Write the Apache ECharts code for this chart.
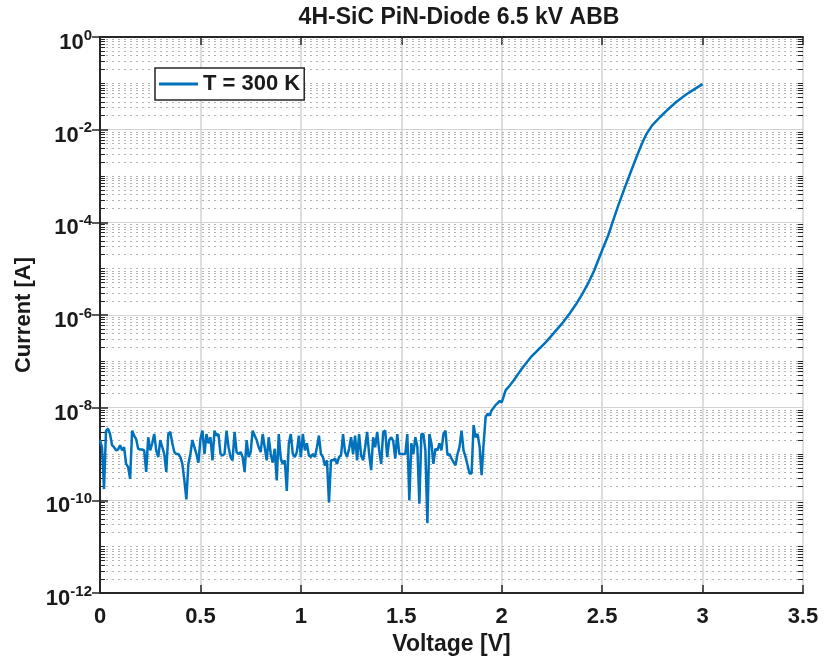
<!DOCTYPE html>
<html><head><meta charset="utf-8">
<script src="https://cdn.jsdelivr.net/npm/echarts@6/dist/echarts.min.js"></script>
<style>html,body{margin:0;padding:0;background:#fff}#c{width:824px;height:664px}</style>
</head><body><div id="c"></div>
<script>
const chartTitle = '4H-SiC PiN-Diode 6.5 kV ABB';
const xName = 'Voltage [V]';
const yName = 'Current [A]';
const legendName = 'T = 300 K';

const noiseVoltage = [
0.00,0.01,0.02,0.03,0.04,0.05,0.06,0.07,0.08,0.09,0.10,0.11,0.12,0.13,0.14,0.15,0.16,0.17,0.18,0.19,
0.20,0.21,0.22,0.23,0.24,0.25,0.26,0.27,0.28,0.29,0.30,0.31,0.32,0.33,0.34,0.35,0.36,0.37,0.38,0.39,
0.40,0.41,0.42,0.43,0.44,0.45,0.46,0.47,0.48,0.49,0.50,0.51,0.52,0.53,0.54,0.55,0.56,0.57,0.58,0.59,
0.60,0.61,0.62,0.63,0.64,0.65,0.66,0.67,0.68,0.69,0.70,0.71,0.72,0.73,0.74,0.75,0.76,0.77,0.78,0.79,
0.80,0.81,0.82,0.83,0.84,0.85,0.86,0.87,0.88,0.89,0.90,0.91,0.92,0.93,0.94,0.95,0.96,0.97,0.98,0.99,
1.00,1.01,1.02,1.03,1.04,1.05,1.06,1.07,1.08,1.09,1.10,1.11,1.12,1.13,1.14,1.15,1.16,1.17,1.18,1.19,
1.20,1.21,1.22,1.23,1.24,1.25,1.26,1.27,1.28,1.29,1.30,1.31,1.32,1.33,1.34,1.35,1.36,1.37,1.38,1.39,
1.40,1.41,1.42,1.43,1.44,1.45,1.46,1.47,1.48,1.49,1.50,1.51,1.52,1.53,1.54,1.55,1.56,1.57,1.58,1.59,
1.60,1.61,1.62,1.63,1.64,1.65,1.66,1.67,1.68,1.69,1.70,1.71,1.72,1.73,1.74,1.75,1.76,1.77,1.78,1.79,
1.80,1.81,1.82,1.83,1.84,1.85,1.86,1.87,1.88,1.89,1.90,1.91,1.92,1.93,1.94,1.95,1.96,1.97,1.98,1.99
];
const noiseCurrent = [
2.0e-9,1.4e-9,1.75e-10,3.2e-9,3.5e-9,2.7e-9,1.55e-9,1.4e-9,1.2e-9,1.25e-9,
1.55e-9,1.2e-9,1.4e-9,6.1e-10,5.2e-10,2.9e-10,3.2e-9,2.5e-9,2.1e-9,1.3e-9,
1.25e-9,1.25e-9,1.2e-9,4.1e-10,2.3e-9,1.2e-9,1.7e-9,2.7e-9,1.2e-9,8.6e-10,
2.0e-9,1.4e-9,1.0e-9,4.1e-10,2.7e-9,3.0e-9,1.7e-9,1.1e-9,1.0e-9,1.0e-9,
8.6e-10,6.1e-10,2.7e-10,1.05e-10,6.1e-10,1.0e-9,2.0e-9,1.4e-9,1.0e-9,
6.5e-10,2.1e-9,3.2e-9,1.0e-9,2.7e-9,1.7e-9,2.3e-9,7.3e-10,3.2e-9,2.5e-9,
2.7e-9,1.0e-9,9.3e-10,1.0e-9,3.2e-9,1.4e-9,8.6e-10,7.3e-10,3.0e-9,1.1e-9,
1.0e-9,1.1e-9,8.6e-10,4.1e-10,2.0e-9,8.6e-10,1.1e-9,3.2e-9,2.5e-9,2.0e-9,
1.4e-9,1.1e-9,2.7e-9,1.4e-9,7.3e-10,2.3e-9,1.0e-9,6.5e-10,1.3e-9,2.7e-10,
2.7e-9,8.0e-10,6.1e-10,7.3e-10,1.6e-10,1.7e-9,2.7e-9,1.0e-9,
8.6e-10,1.1e-9,2.5e-9,8.6e-10,2.7e-9,1.2e-9,1.7e-9,9.3e-10,8.6e-10,1.0e-9,
8.6e-10,1.4e-9,2.5e-9,1.0e-9,8.6e-10,5.6e-10,7.3e-10,9.0e-11,7.3e-10,7.3e-10,
8.0e-10,6.1e-10,8.6e-10,9.3e-10,2.7e-9,1.1e-9,8.6e-10,1.3e-9,2.3e-9,1.0e-9,
2.5e-9,7.3e-10,2.7e-9,9.3e-10,7.3e-10,1.4e-9,3.0e-9,1.0e-9,4.5e-10,2.3e-9,
1.4e-9,3.0e-9,1.2e-9,6.1e-10,3.0e-9,3.2e-9,8.6e-10,2.0e-9,2.3e-9,
1.9e-9,8.0e-10,2.7e-9,1.0e-9,1.0e-9,1.0e-9,1.0e-9,2.7e-9,1.0e-10,1.7e-9,
1.0e-9,2.3e-9,1.43e-9,8.5e-11,2.7e-9,2.7e-9,1.2e-9,3.2e-11,2.7e-9,1.7e-9,
6.1e-10,1.3e-9,1.2e-9,1.7e-9,1.2e-9,2.7e-9,3.2e-9,9.4e-10,1.0e-9,8.0e-10,
6.7e-10,5.7e-10,1.0e-9,1.43e-9,3.2e-9,1.2e-9,8.6e-10,5.7e-10,3.8e-10,3.8e-10,
4.2e-9,2.3e-9,2.7e-9,1.43e-9,3.5e-10,1.7e-9,6.3e-9,7.4e-9,6.8e-9,8.8e-9,
1.0e-8,1.15e-8,1.25e-8,1.4e-8
];
const riseVoltage = [2.00,2.02,2.04,2.06,2.09,2.12,2.15,2.18,2.22,2.26,2.30,2.34,2.37,2.40,2.43,2.46,2.48,2.50,2.53,2.555,2.58,2.61,2.64,2.67,2.70,2.72,2.75,2.79,2.83,2.87,2.92,2.96,3.00];
const riseCurrent = [1.3e-8,2.4e-8,3.0e-8,3.9e-8,6.0e-8,9.0e-8,1.3e-7,1.75e-7,2.6e-7,4.1e-7,6.5e-7,1.1e-6,1.7e-6,2.8e-6,4.8e-6,9.0e-6,1.5e-5,2.5e-5,5.2e-5,1.1e-4,2.3e-4,5.2e-4,1.15e-3,2.5e-3,5.2e-3,8.0e-3,1.25e-2,1.9e-2,2.8e-2,4.0e-2,5.8e-2,7.5e-2,9.6e-2];

const FONT = '"Liberation Sans", Arial, Helvetica, sans-serif';
const TXT = '#1a1a1a';
const AX = '#262626';

const lineData = noiseVoltage.map((v, i) => [v, noiseCurrent[i]])
  .concat(riseVoltage.map((v, i) => [v, riseCurrent[i]]));

// minor log grid lines and minor ticks (2..9 x 10^n, plus odd decades)
const gridMarks = [];
const tickMarks = [];
for (let n = -12; n < 0; n++) {
  for (let k = 1; k <= 9; k++) {
    if (k === 1 && n % 2 === 0) continue;
    const v = k * Math.pow(10, n);
    gridMarks.push({ yAxis: v });
    tickMarks.push([{ coord: [0, v] }, { coord: [0.025, v] }]);
    tickMarks.push([{ coord: [3.475, v] }, { coord: [3.5, v] }]);
  }
}

const labelRich = {
  b: { fontFamily: FONT, fontSize: 22, fontWeight: 'bold', color: TXT, lineHeight: 26, verticalAlign: 'bottom' },
  s: { fontFamily: FONT, fontSize: 15, fontWeight: 'bold', color: TXT, lineHeight: 26, verticalAlign: 'top' }
};

function yAxisCfg(pos, main) {
  return {
    type: 'log', logBase: 10, min: 1e-12, max: 1, interval: 2, position: pos, gridIndex: 0,
    name: main ? yName : '', nameLocation: 'middle', nameGap: 60,
    nameTextStyle: { fontFamily: FONT, fontSize: 22, fontWeight: 'bold', color: TXT },
    axisLine: { show: true, lineStyle: { color: AX, width: 2 } },
    axisTick: { show: true, inside: true, length: 8, lineStyle: { color: AX, width: 1.5 } },
    minorTick: { show: false },
    axisLabel: {
      show: main, margin: 8, padding: [8, 0, 0, 0],
      formatter: function (val) { const e = Math.round(Math.log10(val)); return '{b|10}{s|' + e + '}'; },
      rich: labelRich
    },
    splitLine: { show: main, lineStyle: { color: '#d3d3d3', width: 1 } }
  };
}
function xAxisCfg(pos, main) {
  return {
    type: 'value', min: 0, max: 3.5, interval: 0.5, position: pos, gridIndex: 0,
    name: main ? xName : '', nameLocation: 'middle', nameGap: 40,
    nameTextStyle: { fontFamily: FONT, fontSize: 23, fontWeight: 'bold', color: TXT },
    axisLine: { show: true, onZero: false, lineStyle: { color: AX, width: 2 } },
    axisTick: { show: true, inside: true, length: 8, lineStyle: { color: AX, width: 1.5 } },
    axisLabel: { show: main, margin: 13, fontFamily: FONT, fontSize: 22, fontWeight: 'bold', color: TXT },
    splitLine: { show: main, lineStyle: { color: '#d3d3d3', width: 1.5 } }
  };
}

const chart = echarts.init(document.getElementById('c'), null, { renderer: 'canvas' });
chart.setOption({
  animation: false,
  backgroundColor: '#fff',
  title: {
    text: chartTitle, left: 454, top: 1, textAlign: 'center',
    textStyle: { fontFamily: FONT, fontSize: 23, fontWeight: 'bold', color: TXT }
  },
  grid: { left: 100, right: 21, top: 37, bottom: 71, containLabel: false },
  legend: {
    data: [legendName], left: 155, top: 68, icon: 'rect', itemWidth: 39, itemHeight: 3, z: 50, zlevel: 0,
    padding: [5, 4, 5, 4], borderColor: AX, borderWidth: 1.5, backgroundColor: '#fff',
    textStyle: { fontFamily: FONT, fontSize: 22, fontWeight: 'bold', color: TXT }
  },
  xAxis: [xAxisCfg('bottom', true), xAxisCfg('top', false)],
  yAxis: [yAxisCfg('left', true), yAxisCfg('right', false)],
  series: [
    {
      type: 'line', name: '_grid', xAxisIndex: 0, yAxisIndex: 0, data: [], z: 1, silent: true,
      markLine: {
        silent: true, precision: 20, symbol: ['none', 'none'], label: { show: false }, animation: false,
        lineStyle: { type: [2, 4], color: '#b4b4b4', width: 1.2 },
        emphasis: { disabled: true },
        data: gridMarks
      }
    },
    {
      type: 'line', name: '_ticks', xAxisIndex: 0, yAxisIndex: 0, data: [], z: 3, silent: true,
      markLine: {
        silent: true, precision: 20, symbol: ['none', 'none'], label: { show: false }, animation: false,
        lineStyle: { type: 'solid', color: AX, width: 1 },
        emphasis: { disabled: true },
        data: tickMarks
      }
    },
    {
      type: 'line', name: legendName, xAxisIndex: 0, yAxisIndex: 0, data: lineData, z: 5,
      showSymbol: false, symbol: 'none', color: '#0072BD',
      lineStyle: { color: '#0072BD', width: 2.5 }, itemStyle: { color: '#0072BD' }
    }
  ]
});
</script>
</body></html>
